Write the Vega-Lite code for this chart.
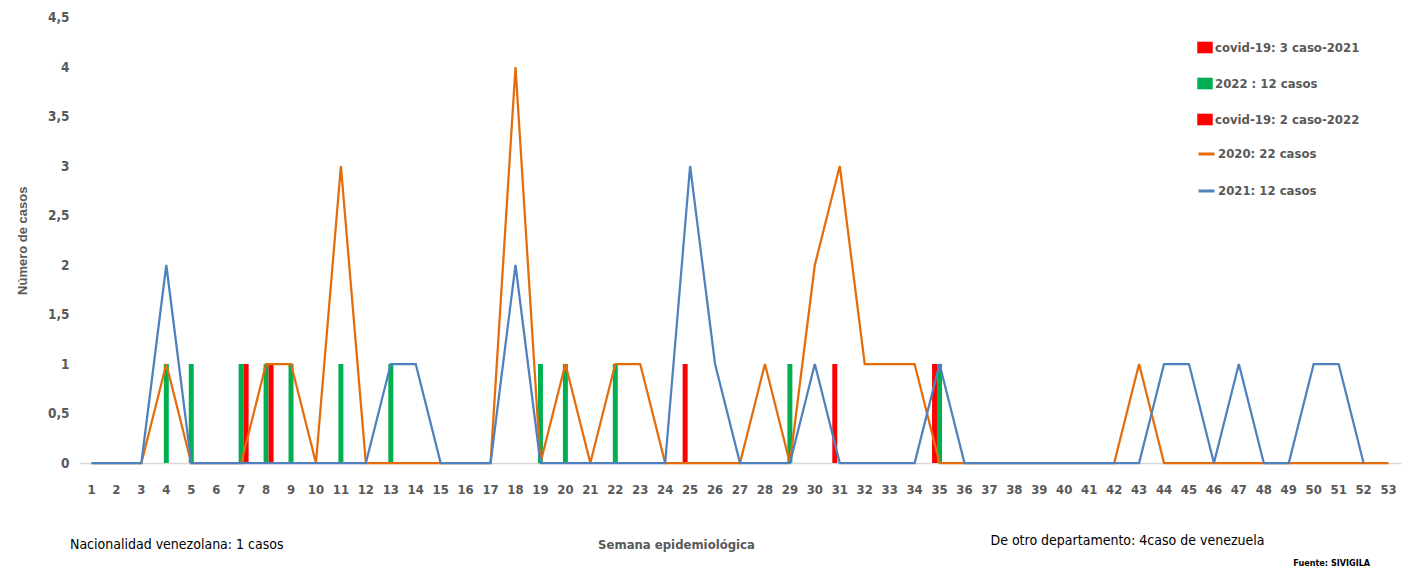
{
  "$schema": "https://vega.github.io/schema/vega-lite/v6.json",
  "autosize": {"type": "none"},
  "padding": {"left": 79, "top": 17.5, "right": 7, "bottom": 112},
  "width": 1322,
  "height": 445.5,
  "background": "white",
  "config": {
    "view": {"stroke": null},
    "font": "DejaVu Sans Condensed, sans-serif"
  },
  "datasets": {
    "lineas": [
      {"semana": 1, "serie": "2020: 22 casos", "casos": 0},
      {"semana": 2, "serie": "2020: 22 casos", "casos": 0},
      {"semana": 3, "serie": "2020: 22 casos", "casos": 0},
      {"semana": 4, "serie": "2020: 22 casos", "casos": 1},
      {"semana": 5, "serie": "2020: 22 casos", "casos": 0},
      {"semana": 6, "serie": "2020: 22 casos", "casos": 0},
      {"semana": 7, "serie": "2020: 22 casos", "casos": 0},
      {"semana": 8, "serie": "2020: 22 casos", "casos": 1},
      {"semana": 9, "serie": "2020: 22 casos", "casos": 1},
      {"semana": 10, "serie": "2020: 22 casos", "casos": 0},
      {"semana": 11, "serie": "2020: 22 casos", "casos": 3},
      {"semana": 12, "serie": "2020: 22 casos", "casos": 0},
      {"semana": 13, "serie": "2020: 22 casos", "casos": 0},
      {"semana": 14, "serie": "2020: 22 casos", "casos": 0},
      {"semana": 15, "serie": "2020: 22 casos", "casos": 0},
      {"semana": 16, "serie": "2020: 22 casos", "casos": 0},
      {"semana": 17, "serie": "2020: 22 casos", "casos": 0},
      {"semana": 18, "serie": "2020: 22 casos", "casos": 4},
      {"semana": 19, "serie": "2020: 22 casos", "casos": 0},
      {"semana": 20, "serie": "2020: 22 casos", "casos": 1},
      {"semana": 21, "serie": "2020: 22 casos", "casos": 0},
      {"semana": 22, "serie": "2020: 22 casos", "casos": 1},
      {"semana": 23, "serie": "2020: 22 casos", "casos": 1},
      {"semana": 24, "serie": "2020: 22 casos", "casos": 0},
      {"semana": 25, "serie": "2020: 22 casos", "casos": 0},
      {"semana": 26, "serie": "2020: 22 casos", "casos": 0},
      {"semana": 27, "serie": "2020: 22 casos", "casos": 0},
      {"semana": 28, "serie": "2020: 22 casos", "casos": 1},
      {"semana": 29, "serie": "2020: 22 casos", "casos": 0},
      {"semana": 30, "serie": "2020: 22 casos", "casos": 2},
      {"semana": 31, "serie": "2020: 22 casos", "casos": 3},
      {"semana": 32, "serie": "2020: 22 casos", "casos": 1},
      {"semana": 33, "serie": "2020: 22 casos", "casos": 1},
      {"semana": 34, "serie": "2020: 22 casos", "casos": 1},
      {"semana": 35, "serie": "2020: 22 casos", "casos": 0},
      {"semana": 36, "serie": "2020: 22 casos", "casos": 0},
      {"semana": 37, "serie": "2020: 22 casos", "casos": 0},
      {"semana": 38, "serie": "2020: 22 casos", "casos": 0},
      {"semana": 39, "serie": "2020: 22 casos", "casos": 0},
      {"semana": 40, "serie": "2020: 22 casos", "casos": 0},
      {"semana": 41, "serie": "2020: 22 casos", "casos": 0},
      {"semana": 42, "serie": "2020: 22 casos", "casos": 0},
      {"semana": 43, "serie": "2020: 22 casos", "casos": 1},
      {"semana": 44, "serie": "2020: 22 casos", "casos": 0},
      {"semana": 45, "serie": "2020: 22 casos", "casos": 0},
      {"semana": 46, "serie": "2020: 22 casos", "casos": 0},
      {"semana": 47, "serie": "2020: 22 casos", "casos": 0},
      {"semana": 48, "serie": "2020: 22 casos", "casos": 0},
      {"semana": 49, "serie": "2020: 22 casos", "casos": 0},
      {"semana": 50, "serie": "2020: 22 casos", "casos": 0},
      {"semana": 51, "serie": "2020: 22 casos", "casos": 0},
      {"semana": 52, "serie": "2020: 22 casos", "casos": 0},
      {"semana": 53, "serie": "2020: 22 casos", "casos": 0},
      {"semana": 1, "serie": "2021: 12 casos", "casos": 0},
      {"semana": 2, "serie": "2021: 12 casos", "casos": 0},
      {"semana": 3, "serie": "2021: 12 casos", "casos": 0},
      {"semana": 4, "serie": "2021: 12 casos", "casos": 2},
      {"semana": 5, "serie": "2021: 12 casos", "casos": 0},
      {"semana": 6, "serie": "2021: 12 casos", "casos": 0},
      {"semana": 7, "serie": "2021: 12 casos", "casos": 0},
      {"semana": 8, "serie": "2021: 12 casos", "casos": 0},
      {"semana": 9, "serie": "2021: 12 casos", "casos": 0},
      {"semana": 10, "serie": "2021: 12 casos", "casos": 0},
      {"semana": 11, "serie": "2021: 12 casos", "casos": 0},
      {"semana": 12, "serie": "2021: 12 casos", "casos": 0},
      {"semana": 13, "serie": "2021: 12 casos", "casos": 1},
      {"semana": 14, "serie": "2021: 12 casos", "casos": 1},
      {"semana": 15, "serie": "2021: 12 casos", "casos": 0},
      {"semana": 16, "serie": "2021: 12 casos", "casos": 0},
      {"semana": 17, "serie": "2021: 12 casos", "casos": 0},
      {"semana": 18, "serie": "2021: 12 casos", "casos": 2},
      {"semana": 19, "serie": "2021: 12 casos", "casos": 0},
      {"semana": 20, "serie": "2021: 12 casos", "casos": 0},
      {"semana": 21, "serie": "2021: 12 casos", "casos": 0},
      {"semana": 22, "serie": "2021: 12 casos", "casos": 0},
      {"semana": 23, "serie": "2021: 12 casos", "casos": 0},
      {"semana": 24, "serie": "2021: 12 casos", "casos": 0},
      {"semana": 25, "serie": "2021: 12 casos", "casos": 3},
      {"semana": 26, "serie": "2021: 12 casos", "casos": 1},
      {"semana": 27, "serie": "2021: 12 casos", "casos": 0},
      {"semana": 28, "serie": "2021: 12 casos", "casos": 0},
      {"semana": 29, "serie": "2021: 12 casos", "casos": 0},
      {"semana": 30, "serie": "2021: 12 casos", "casos": 1},
      {"semana": 31, "serie": "2021: 12 casos", "casos": 0},
      {"semana": 32, "serie": "2021: 12 casos", "casos": 0},
      {"semana": 33, "serie": "2021: 12 casos", "casos": 0},
      {"semana": 34, "serie": "2021: 12 casos", "casos": 0},
      {"semana": 35, "serie": "2021: 12 casos", "casos": 1},
      {"semana": 36, "serie": "2021: 12 casos", "casos": 0},
      {"semana": 37, "serie": "2021: 12 casos", "casos": 0},
      {"semana": 38, "serie": "2021: 12 casos", "casos": 0},
      {"semana": 39, "serie": "2021: 12 casos", "casos": 0},
      {"semana": 40, "serie": "2021: 12 casos", "casos": 0},
      {"semana": 41, "serie": "2021: 12 casos", "casos": 0},
      {"semana": 42, "serie": "2021: 12 casos", "casos": 0},
      {"semana": 43, "serie": "2021: 12 casos", "casos": 0},
      {"semana": 44, "serie": "2021: 12 casos", "casos": 1},
      {"semana": 45, "serie": "2021: 12 casos", "casos": 1},
      {"semana": 46, "serie": "2021: 12 casos", "casos": 0},
      {"semana": 47, "serie": "2021: 12 casos", "casos": 1},
      {"semana": 48, "serie": "2021: 12 casos", "casos": 0},
      {"semana": 49, "serie": "2021: 12 casos", "casos": 0},
      {"semana": 50, "serie": "2021: 12 casos", "casos": 1},
      {"semana": 51, "serie": "2021: 12 casos", "casos": 1},
      {"semana": 52, "serie": "2021: 12 casos", "casos": 0}
    ],
    "barras": [
      {"semana": 25, "serie": "covid-19: 3  caso-2021", "casos": 1},
      {"semana": 31, "serie": "covid-19: 3  caso-2021", "casos": 1},
      {"semana": 35, "serie": "covid-19: 3  caso-2021", "casos": 1},
      {"semana": 4, "serie": "2022 : 12 casos", "casos": 1},
      {"semana": 5, "serie": "2022 : 12 casos", "casos": 1},
      {"semana": 7, "serie": "2022 : 12 casos", "casos": 1},
      {"semana": 8, "serie": "2022 : 12 casos", "casos": 1},
      {"semana": 9, "serie": "2022 : 12 casos", "casos": 1},
      {"semana": 11, "serie": "2022 : 12 casos", "casos": 1},
      {"semana": 13, "serie": "2022 : 12 casos", "casos": 1},
      {"semana": 19, "serie": "2022 : 12 casos", "casos": 1},
      {"semana": 20, "serie": "2022 : 12 casos", "casos": 1},
      {"semana": 22, "serie": "2022 : 12 casos", "casos": 1},
      {"semana": 29, "serie": "2022 : 12 casos", "casos": 1},
      {"semana": 35, "serie": "2022 : 12 casos", "casos": 1},
      {"semana": 7, "serie": "covid-19: 2  caso-2022", "casos": 1},
      {"semana": 8, "serie": "covid-19: 2  caso-2022", "casos": 1}
    ],
    "notas": [
      {"texto": "Nacionalidad venezolana: 1 casos", "semana": 1},
      {"texto": "De otro departamento: 4caso de venezuela", "semana": 37},
      {"texto": "Fuente: SIVIGILA", "semana": 52}
    ]
  },
  "resolve": {"scale": {"color": "independent"}},
  "layer": [
    {
      "data": {"name": "barras"},
      "mark": {"type": "bar"},
      "encoding": {
        "x": {
          "field": "semana",
          "type": "ordinal",
          "scale": {
            "domain": [1,2,3,4,5,6,7,8,9,10,11,12,13,14,15,16,17,18,19,20,21,22,23,24,25,26,27,28,29,30,31,32,33,34,35,36,37,38,39,40,41,42,43,44,45,46,47,48,49,50,51,52,53],
            "paddingInner": 0.4,
            "paddingOuter": 0.2
          },
          "axis": {
            "title": "Semana epidemiológica",
            "titleX": 597,
            "titleY": 81,
            "titleBaseline": "middle",
            "titleFontSize": 13,
            "titleFontWeight": "bold",
            "titleColor": "#595959",
            "labelAngle": 0,
            "labelFontSize": 13,
            "labelFontWeight": "bold",
            "labelColor": "#595959",
            "labelPadding": 20,
            "ticks": false,
            "domainColor": "#D9D9D9",
            "domainWidth": 1.5,
            "grid": false
          }
        },
        "y": {
          "field": "casos",
          "type": "quantitative",
          "scale": {"domain": [0, 4.5], "nice": false},
          "axis": {
            "title": "Número de casos",
            "titleFont": "Liberation Sans, Arial, sans-serif",
            "titleFontSize": 13,
            "titleFontWeight": "bold",
            "titleColor": "#595959",
            "titleX": -57,
            "titleY": 222.75,
            "titleAlign": "center",
            "titleBaseline": "middle",
            "values": [0, 0.5, 1, 1.5, 2, 2.5, 3, 3.5, 4, 4.5],
            "labelExpr": "replace(format(datum.value, ''), '.', ',')",
            "labelFontSize": 13.5,
            "labelFontWeight": "bold",
            "labelColor": "#595959",
            "labelPadding": 10,
            "ticks": false,
            "domain": false,
            "grid": false
          }
        },
        "xOffset": {
          "field": "serie",
          "type": "nominal",
          "scale": {"domain": ["covid-19: 3  caso-2021", "2022 : 12 casos", "covid-19: 2  caso-2022"], "paddingInner": 0, "paddingOuter": 0}
        },
        "color": {
          "field": "serie",
          "type": "nominal",
          "scale": {
            "domain": ["covid-19: 3  caso-2021", "2022 : 12 casos", "covid-19: 2  caso-2022"],
            "range": ["#FF0000", "#00B050", "#FF0000"]
          },
          "legend": {
            "title": null,
            "orient": "none",
            "legendX": 1118,
            "legendY": 22,
            "padding": 0,
            "symbolType": "M-1,-0.75H1V0.75H-1Z",
            "symbolSize": 240,
            "symbolStrokeWidth": 0,
            "labelFontSize": 13,
            "labelFontWeight": "bold",
            "labelColor": "#595959",
            "labelOffset": 2,
            "labelLimit": 300,
            "rowPadding": 21
          }
        }
      }
    },
    {
      "data": {"name": "lineas"},
      "mark": {"type": "line", "strokeWidth": 2.25},
      "encoding": {
        "x": {"field": "semana", "type": "ordinal"},
        "y": {"field": "casos", "type": "quantitative"},
        "color": {
          "field": "serie",
          "type": "nominal",
          "scale": {
            "domain": ["2020: 22 casos", "2021: 12 casos"],
            "range": ["#E46C0A", "#4F81BD"]
          },
          "legend": {
            "title": null,
            "orient": "none",
            "legendX": 1118,
            "legendY": 127,
            "padding": 0,
            "symbolType": "stroke",
            "symbolSize": 256,
            "symbolStrokeWidth": 3,
            "labelFontSize": 13,
            "labelFontWeight": "bold",
            "labelColor": "#595959",
            "labelOffset": 2,
            "labelLimit": 300,
            "rowPadding": 20
          }
        }
      }
    },
    {
      "data": {"name": "notas"},
      "transform": [{"filter": "datum.semana == 1"}],
      "mark": {"type": "text", "align": "left", "baseline": "middle", "dx": -21.5, "fontSize": 14, "color": "#000000"},
      "encoding": {
        "x": {"field": "semana", "type": "ordinal"},
        "y": {"datum": -0.828, "type": "quantitative"},
        "text": {"field": "texto"}
      }
    },
    {
      "data": {"name": "notas"},
      "transform": [{"filter": "datum.semana == 37"}],
      "mark": {"type": "text", "align": "left", "baseline": "middle", "dx": 1, "fontSize": 14, "color": "#000000"},
      "encoding": {
        "x": {"field": "semana", "type": "ordinal"},
        "y": {"datum": -0.788, "type": "quantitative"},
        "text": {"field": "texto"}
      }
    },
    {
      "data": {"name": "notas"},
      "transform": [{"filter": "datum.semana == 52"}],
      "mark": {"type": "text", "align": "right", "baseline": "middle", "dx": 6.5, "fontSize": 9, "fontWeight": "bold", "color": "#000000"},
      "encoding": {
        "x": {"field": "semana", "type": "ordinal"},
        "y": {"datum": -1.01, "type": "quantitative"},
        "text": {"field": "texto"}
      }
    }
  ]
}
